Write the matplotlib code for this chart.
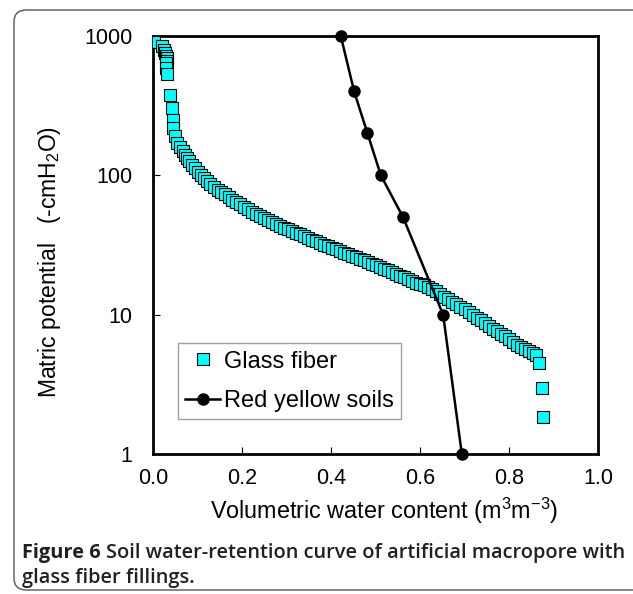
import matplotlib
matplotlib.use("Agg")
import matplotlib.pyplot as plt
from matplotlib.patches import FancyBboxPatch

plt.rcParams['font.family'] = ['Liberation Sans', 'DejaVu Sans']
plt.rcParams['mathtext.fontset'] = 'custom'
plt.rcParams['mathtext.rm'] = 'Liberation Sans'
plt.rcParams['mathtext.it'] = 'Liberation Sans:italic'

# glass fiber (volumetric water content, matric potential)
glass_x = [0.002, 0.020, 0.024, 0.027, 0.029, 0.031, 0.032, 0.030, 0.030, 0.031,
           0.038, 0.042, 0.044, 0.046, 0.050, 0.055,
           0.061, 0.067, 0.072, 0.077, 0.082, 0.088, 0.094, 0.100, 0.107, 0.114,
           0.121, 0.129, 0.137, 0.145, 0.153, 0.161, 0.170, 0.178, 0.187, 0.196,
           0.205, 0.214, 0.223, 0.232, 0.241, 0.250, 0.259, 0.268, 0.277, 0.286,
           0.295, 0.304, 0.313, 0.322, 0.331, 0.340, 0.349, 0.358, 0.367, 0.376,
           0.385, 0.394, 0.403, 0.412, 0.421, 0.430, 0.439, 0.448, 0.457, 0.466,
           0.475, 0.484, 0.493, 0.502, 0.511, 0.520, 0.529, 0.538, 0.547, 0.556,
           0.565, 0.574, 0.583, 0.592, 0.601, 0.610, 0.619, 0.628, 0.637, 0.646,
           0.655, 0.664, 0.673, 0.682, 0.691, 0.700, 0.709, 0.718, 0.727, 0.736,
           0.745, 0.754, 0.763, 0.772, 0.781, 0.790, 0.799, 0.808, 0.817, 0.826,
           0.835, 0.844, 0.853, 0.860, 0.868, 0.875, 0.877]
glass_y = [900, 850, 800, 760, 720, 690, 660, 635, 590, 530,
           376, 302, 250, 217, 191, 172,
           160, 150, 141, 133, 126, 119, 112, 106, 101, 96,
           91, 87, 83, 79, 76, 73, 70, 67, 64, 62,
           59.5, 57, 55, 53, 51, 49.5, 48, 46.5, 45, 43.5,
           42, 41, 40, 38.8, 37.7, 36.6, 35.5, 34.5, 33.6, 32.7,
           31.8, 31, 30.2, 29.4, 28.6, 27.9, 27.2, 26.5, 25.8, 25.1,
           24.5, 23.8, 23.2, 22.6, 22.0, 21.4, 20.8, 20.2, 19.6, 19.0,
           18.5, 17.9, 17.4, 17.0, 16.7, 16.3, 15.8, 15.3, 14.7, 14.1,
           13.5, 12.9, 12.4, 11.9, 11.4, 10.9, 10.4, 9.9, 9.5, 9.1,
           8.7, 8.3, 7.9, 7.6, 7.3, 7.0, 6.7, 6.4, 6.1, 5.9,
           5.7, 5.5, 5.3, 5.1, 4.5, 3.0, 1.83]

# red yellow soils
soil_x = [0.422, 0.452, 0.482, 0.512, 0.562, 0.652, 0.694]
soil_y = [1000, 400, 200, 100, 50, 10, 1]

x_ticks = [0.0, 0.2, 0.4, 0.6, 0.8, 1.0]
y_ticks = [1, 10, 100, 1000]

fig = plt.figure(figsize=(6.33, 5.94), dpi=100)

# rounded frame around figure + caption
frame = FancyBboxPatch((14 / 633, 4 / 594), 640 / 633, 580 / 594,
                       boxstyle="round,pad=0,rounding_size=0.02",
                       transform=fig.transFigure, fill=False,
                       edgecolor='#555555', linewidth=1.0, clip_on=False)
fig.patches.append(frame)

ax = fig.add_axes([153 / 633, 1 - 454 / 594, 445 / 633, 418 / 594])

ax.plot(glass_x, glass_y, linestyle='none', marker='s', markersize=8.5,
        markerfacecolor='#00FFFF', markeredgecolor='black', markeredgewidth=0.8,
        label='Glass fiber', zorder=3)
ax.plot(soil_x, soil_y, color='black', linewidth=1.8, marker='o', markersize=8,
        label='Red yellow soils', zorder=4, clip_on=False)

ax.set_yscale('log')
ax.set_xlim(0, 1.0)
ax.set_ylim(1, 1000)
ax.set_xticks(x_ticks)
ax.set_xticklabels([f"{t:.1f}" for t in x_ticks])
ax.set_yticks(y_ticks)
ax.set_yticklabels([str(t) for t in y_ticks])
ax.minorticks_off()
ax.tick_params(axis='both', direction='in', length=5, width=0.8, labelsize=15.5)
ax.tick_params(axis='y', pad=15)
ax.tick_params(axis='x', pad=10)
for s in ax.spines.values():
    s.set_linewidth(2)

ax.set_xlabel('Volumetric water content (m$^\\mathrm{3}$m$^\\mathrm{-3}$)',
              fontsize=16.8, labelpad=5)
ax.set_ylabel('Matric potential   (-cmH$_\\mathrm{2}$O)', fontsize=16.5, labelpad=15)
ax.xaxis.label.set_x(0.52)
ax.yaxis.label.set_y(0.46)

leg = ax.legend(loc='lower left', bbox_to_anchor=(0.057, 0.083), borderaxespad=0,
                fontsize=17, frameon=True, fancybox=False, edgecolor='#888888',
                handlelength=1.45, handletextpad=0.2, borderpad=0.3, labelspacing=0.75)
leg.get_frame().set_linewidth(1.0)

cap_kw = dict(fontsize=14.4, family='Open Sans', color='#231f20', va='center', ha='left')
t1 = fig.text(22 / 633, 1 - 553 / 594, "Figure 6", weight='bold', **cap_kw)
fig.canvas.draw()
bb = t1.get_window_extent()
fig.text((bb.x1 + 5) / 633, 1 - 553 / 594,
         "Soil water-retention curve of artificial macropore with",
         weight='semibold', **cap_kw)
fig.text(22 / 633, 1 - 578 / 594, "glass fiber fillings.", weight='semibold', **cap_kw)

fig.savefig('out.png', dpi=100)
